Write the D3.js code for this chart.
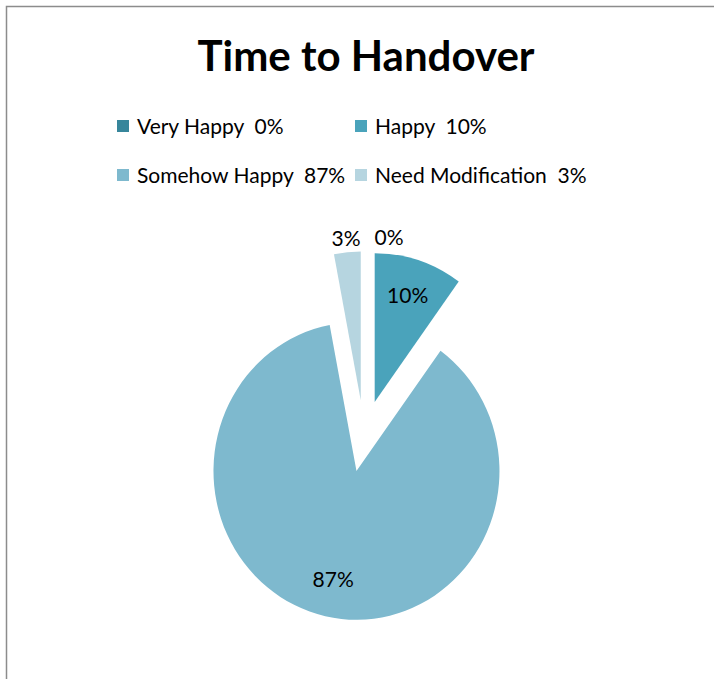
<!DOCTYPE html>
<html>
<head>
<meta charset="utf-8">
<title>Time to Handover</title>
<style>
  body { margin: 0; background: #fff; }
  svg text { font-family: Lato, "Open Sans", sans-serif; }
</style>
</head>
<body>
<script src="https://d3js.org/d3.v7.min.js"></script>
<script>
    // chart data
    var categories = ["Very Happy", "Happy", "Somehow Happy", "Need Modification"];
    var values = [0, 10, 87, 3];
    var colors = ["#37869b", "#4aa3bb", "#7eb9ce", "#b6d5e0"];
    var title = "Time to Handover";

    var width = 714, height = 679;
    var cx = 364, cy = 436;       // centre of pie before exploding
    var radius = 143, explode = 34.5;
    var ystretch = 1.04;          // the original picture is a little taller than wide

    var svg = d3.select("body").append("svg")
        .attr("width", width)
        .attr("height", height);

    // chart frame (right and bottom edges fall outside the picture)
    svg.append("rect")
        .attr("x", 6.5).attr("y", 6.5)
        .attr("width", 709).attr("height", 690)
        .attr("fill", "none")
        .attr("stroke", "#8c8c8c")
        .attr("stroke-width", 1.5);

    svg.append("text")
        .attr("x", 366).attr("y", 71)
        .attr("text-anchor", "middle")
        .style("font-size", "42px")
        .style("font-weight", "bold")
        .text(title);

    // legend, two columns
    var legend = svg.selectAll(".legend")
        .data(categories)
        .enter().append("g")
        .attr("class", "legend")
        .attr("transform", function(d, i) {
            return "translate(" + (i % 2 == 0 ? 117 : 355) + "," + (120 + Math.floor(i / 2) * 49) + ")";
        });
    legend.append("rect")
        .attr("width", 12).attr("height", 12)
        .attr("fill", function(d, i) { return colors[i]; });
    legend.append("text")
        .attr("x", 20).attr("y", 14)
        .attr("xml:space", "preserve")
        .style("font-size", "21px")
        .text(function(d, i) { return d + "  " + values[i] + "%"; });

    var pie = d3.pie().sort(null).value(function(d) { return d; });
    var arcs = pie(values);
    var arc = d3.arc().innerRadius(0).outerRadius(radius);

    function mid(d) { return (d.startAngle + d.endAngle) / 2; }

    var g = svg.append("g")
        .attr("transform", "translate(" + cx + "," + cy + ") scale(1," + ystretch + ")");

    var slices = g.selectAll(".slice")
        .data(arcs)
        .enter().append("g")
        .attr("class", "slice")
        .attr("transform", function(d) {
            var a = mid(d);
            return "translate(" + (explode * Math.sin(a)) + "," + (-explode * Math.cos(a)) + ")";
        });

    slices.append("path")
        .attr("d", arc)
        .attr("fill", function(d, i) { return colors[i]; });

    // labels: inside for big slices, outside for tiny ones
    var labels = arcs.map(function(d, i) {
        var a = mid(d);
        var sx = cx + explode * Math.sin(a), sy = cy - explode * Math.cos(a) * ystretch;
        var inside = d.value >= 5;
        var r = inside ? 107 : 156;
        return {
            text: d.value + "%",
            x: sx + r * Math.sin(a),
            y: sy - r * Math.cos(a) * ystretch,
            inside: inside
        };
    });
    // push overlapping outside labels apart
    var outside = labels.filter(function(l) { return !l.inside; })
        .sort(function(a, b) { return a.x - b.x; });
    for (var k = 1; k < outside.length; k++) {
        var minGap = 43;
        if (outside[k].x - outside[k - 1].x < minGap) outside[k].x = outside[k - 1].x + minGap;
    }

    svg.selectAll(".dlabel")
        .data(labels)
        .enter().append("text")
        .attr("class", "dlabel")
        .attr("x", function(d) { return d.x; })
        .attr("y", function(d) { return d.y; })
        .attr("dy", "0.35em")
        .attr("text-anchor", "middle")
        .style("font-size", "21px")
        .text(function(d) { return d.text; });
</script>
</body>
</html>
